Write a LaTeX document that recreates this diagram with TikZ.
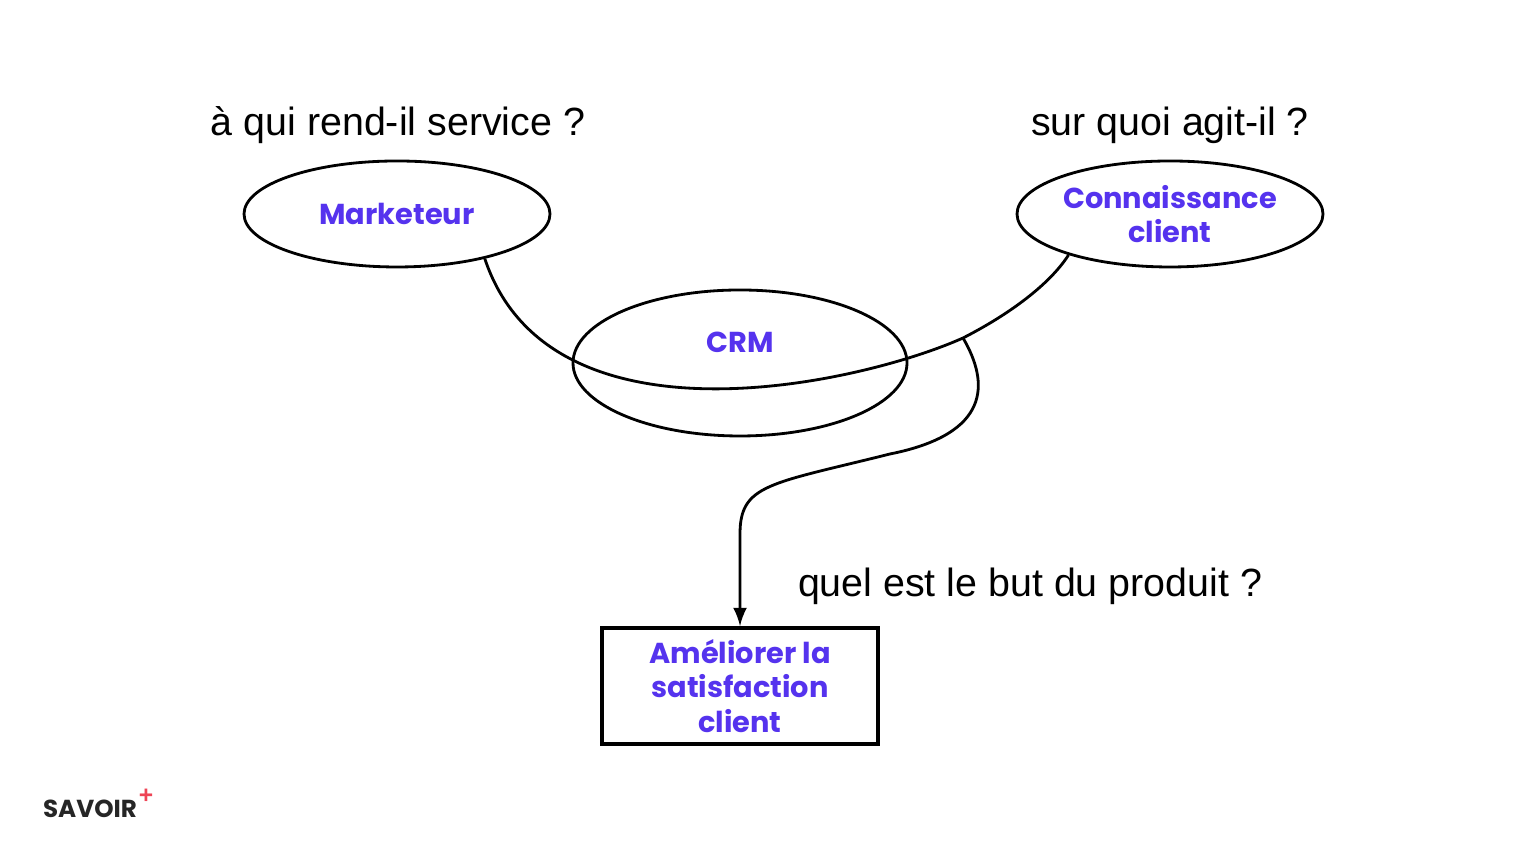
\documentclass[tikz,border=0pt]{standalone}
\usepackage{fontspec}
\setmainfont{Liberation Sans}
\newfontfamily\labelfont{Poppins}
\usetikzlibrary{positioning,shapes.geometric}
\definecolor{labelblue}{HTML}{5533EE}
\definecolor{plusred}{HTML}{EE4455}
\tikzset{
  topic/.style    = {shape=ellipse, draw, line width=0.8pt, inner sep=0pt,
                     minimum width=3.06cm, minimum height=1.06cm,
                     align=center, font=\labelfont\bfseries\fontsize{8.2}{9.8}\selectfont,
                     text=labelblue},
  goal/.style     = {topic, shape=rectangle, line width=1.1pt,
                     minimum width=2.76cm, minimum height=1.16cm},
  question/.style = {font=\fontsize{11.2}{13}\selectfont}
}
\begin{document}
\begin{tikzpicture}
\useasboundingbox (0,0) rectangle (15.36,8.64);
% concepts
\node[topic] (mark) at (3.97,6.50) {Marketeur};
\node[topic] (know) at (11.70,6.50) {Connaissance\\client};
\node[topic, minimum width=3.34cm, minimum height=1.46cm] (crm) at (7.40,5.01) {\raisebox{1.45em}{CRM}};
\node[goal] (aim) at (7.40,1.78) {Améliorer la\\satisfaction\\client};
% questions
\node[question] (q1) at (3.98,7.39) {à qui rend-il service ?};
\node[question] (q2) at (11.70,7.39) {sur quoi agit-il ?};
\node[question] (q3) at (10.30,2.78) {quel est le but du produit ?};
% links
\coordinate (src) at (9.63,5.26);
\draw[line width=0.8pt] (mark.-27) .. controls (5.5,4.1) and (8.6,4.8) .. (9.63,5.26)
  .. controls (10.1,5.5) and (10.5,5.8) .. (know.-158);
\draw[line width=0.8pt, -latex] (src) .. controls (9.9,4.8) and (9.9,4.3) .. (8.9,4.1)
  .. controls (7.7,3.8) and (7.40,3.8) .. (7.40,3.3) -- (aim.north);
% logo
\node[font=\labelfont\bfseries\fontsize{7}{8}\selectfont, text=black!85] (logo) at (0.90,0.55) {SAVOIR};
\node[font=\bfseries\fontsize{7}{8}\selectfont, text=plusred, inner sep=0pt] (plus) at (1.46,0.68) {+};
\end{tikzpicture}
\end{document}
